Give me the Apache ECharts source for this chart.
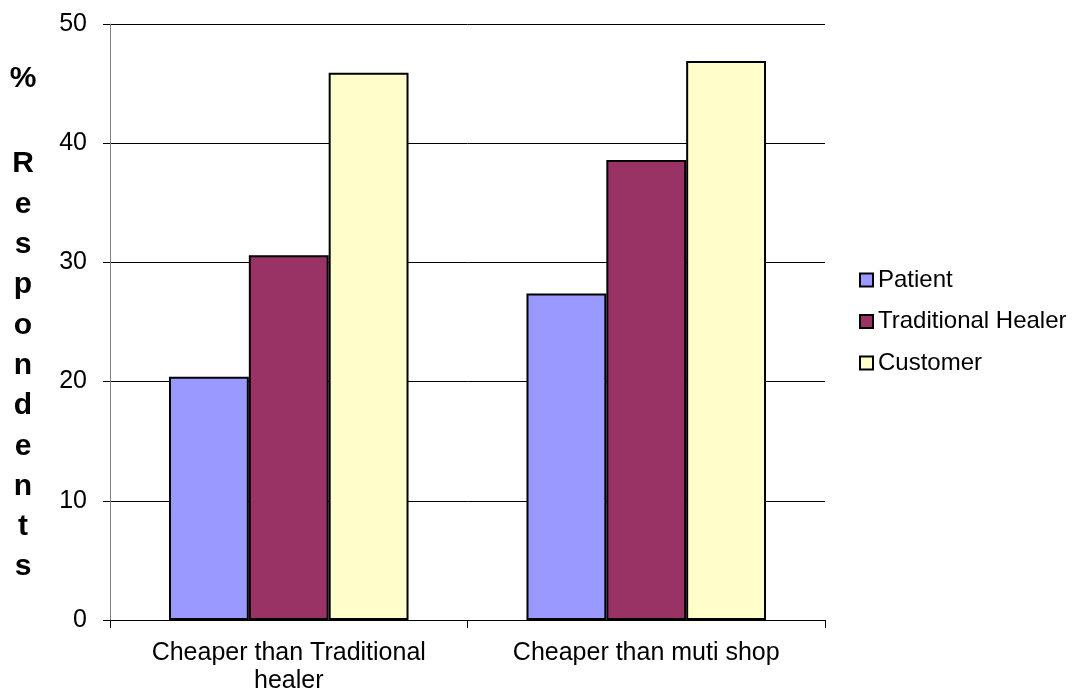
<!DOCTYPE html>
<html><head><meta charset="utf-8">
<script src="https://cdn.jsdelivr.net/npm/echarts@6/dist/echarts.min.js"></script>
<style>html,body{margin:0;padding:0;background:#fff}#c{width:1073px;height:695px}</style>
</head><body><div id="c"></div>
<script>
const categories = ['Cheaper than Traditional\nhealer', 'Cheaper than muti shop'];
const seriesNames = ['Patient', 'Traditional Healer', 'Customer'];
const patient = [20.4, 27.4];
const traditionalHealer = [30.6, 38.6];
const customer = [45.9, 46.9];
const yTicks = [0, 10, 20, 30, 40, 50];
const colors = ['#9999FF', '#993366', '#FFFFCC'];
const values = [patient, traditionalHealer, customer];

const chart = echarts.init(document.getElementById('c'));
const font = 'Liberation Sans, Arial, sans-serif';
chart.setOption({
  animation: false,
  grid: {left: 110, top: 24, width: 715, height: 598, containLabel: false},
  legend: {
    orient: 'vertical', left: 854, top: 263, itemGap: 17.5,
    itemWidth: 13, itemHeight: 13, icon: 'rect',
    textStyle: {fontFamily: font, fontSize: 24, color: '#000', padding: [0,0,0,0]},
    data: seriesNames.map((n, i) => ({name: n, itemStyle: {color: colors[i], borderColor: '#000', borderWidth: 2}}))
  },
  xAxis: {
    type: 'category', data: categories,
    axisLine: {lineStyle: {color: '#000', width: 1}},
    axisTick: {show: true, length: 8, lineStyle: {color: '#000'}},
    axisLabel: {fontFamily: font, fontSize: 25, color: '#000', margin: 19, lineHeight: 28}
  },
  yAxis: {
    type: 'value', min: yTicks[0], max: yTicks[yTicks.length-1], interval: 10,
    axisLine: {show: true, lineStyle: {color: '#808080', width: 1}},
    axisTick: {show: true, length: 7, lineStyle: {color: '#000'}},
    splitLine: {lineStyle: {color: '#000', width: 1}},
    axisLabel: {fontFamily: font, fontSize: 25, color: '#000', margin: 23}
  },
  graphic: [
    {type: 'text', x: 23, y: 79, style: {text: '%', font: 'bold 30px ' + font, fill: '#000', align: 'center', verticalAlign: 'middle'}},
    {type: 'text', x: 23, y: 144, style: {text: 'R\ne\ns\np\no\nn\nd\ne\nn\nt\ns', font: 'bold 30px ' + font, fill: '#000', align: 'center', verticalAlign: 'top', lineHeight: 40.3}}
  ],
  series: seriesNames.map((n, i) => ({
    name: n, type: 'bar', data: values[i],
    barGap: '0%', barCategoryGap: '33%',
    itemStyle: {color: colors[i], borderColor: '#000', borderWidth: 2}
  }))
});
</script></body></html>
